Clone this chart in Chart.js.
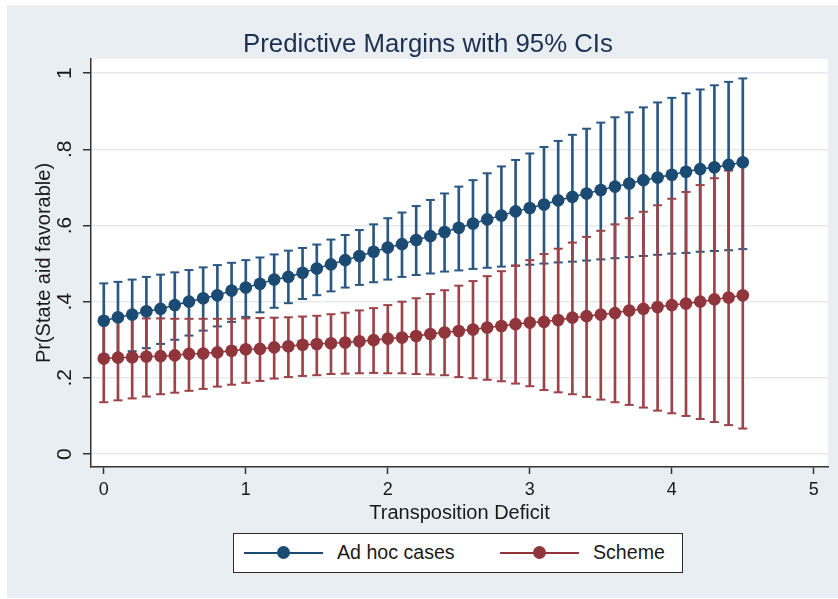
<!DOCTYPE html>
<html>
<head>
<meta charset="utf-8">
<script src="https://cdn.jsdelivr.net/npm/chart.js@4.4.1/dist/chart.umd.min.js"></script>
<style>
  body { margin: 0; background: #fff; }
  #wrap { position: relative; width: 838px; height: 599px; font-family: "Liberation Sans", Arial, sans-serif; color: #1a1a1a; }
  #panel { position: absolute; left: 7px; top: 5px; width: 831px; height: 593px; background: #e8eef2; }
  #chart { position: absolute; left: 0; top: 0; }
  #title { position: absolute; left: 0; top: 28px; width: 856px; text-align: center; font-size: 25.8px; line-height: 30px; color: #1e3050; }
  #legend { position: absolute; left: 233px; top: 533px; width: 450px; height: 40px; box-sizing: border-box;
            border: 1.5px solid #2a2a2a; background: #fff; }
  .ln { position: absolute; height: 2px; width: 79px; top: 17.5px; }
  .dot { position: absolute; width: 13px; height: 13px; border-radius: 50%; top: 12px; }
  .lab { position: absolute; top: 6px; font-size: 19.6px; line-height: 24px; }
</style>
</head>
<body>
<div id="wrap">
  <div id="panel"></div>
  <canvas id="chart" width="838" height="599"></canvas>
  <div id="title">Predictive Margins with 95% CIs</div>
  <div id="legend"></div>
</div>
<script>
// x values (Transposition Deficit)
const xVals = [0, 0.1, 0.2, 0.3, 0.4, 0.5, 0.6, 0.7, 0.8, 0.9,
               1, 1.1, 1.2, 1.3, 1.4, 1.5, 1.6, 1.7, 1.8, 1.9,
               2, 2.1, 2.2, 2.3, 2.4, 2.5, 2.6, 2.7, 2.8, 2.9,
               3, 3.1, 3.2, 3.3, 3.4, 3.5, 3.6, 3.7, 3.8, 3.9,
               4, 4.1, 4.2, 4.3, 4.4, 4.5];

// Ad hoc cases: margin, lower and upper 95% CI
const adhocMean = [0.350, 0.359, 0.366, 0.375, 0.381, 0.391, 0.400, 0.409, 0.417, 0.429,
                   0.437, 0.447, 0.458, 0.465, 0.476, 0.487, 0.498, 0.509, 0.520, 0.531,
                   0.542, 0.551, 0.562, 0.572, 0.583, 0.594, 0.605, 0.616, 0.626, 0.637,
                   0.646, 0.655, 0.666, 0.675, 0.684, 0.693, 0.702, 0.710, 0.719, 0.726,
                   0.733, 0.741, 0.748, 0.753, 0.759, 0.766];
const adhocLo = [0.252, 0.262, 0.270, 0.278, 0.289, 0.300, 0.311, 0.324, 0.335, 0.347,
                 0.360, 0.372, 0.384, 0.396, 0.407, 0.417, 0.427, 0.437, 0.444, 0.451,
                 0.458, 0.465, 0.470, 0.474, 0.479, 0.482, 0.486, 0.489, 0.492, 0.494,
                 0.497, 0.500, 0.503, 0.505, 0.508, 0.511, 0.514, 0.517, 0.520, 0.523,
                 0.526, 0.528, 0.531, 0.533, 0.535, 0.538];
const adhocHi = [0.448, 0.452, 0.458, 0.465, 0.471, 0.477, 0.483, 0.490, 0.496, 0.502,
                 0.509, 0.516, 0.524, 0.534, 0.541, 0.550, 0.563, 0.575, 0.588, 0.603,
                 0.619, 0.634, 0.651, 0.667, 0.684, 0.702, 0.719, 0.737, 0.755, 0.772,
                 0.789, 0.806, 0.822, 0.838, 0.854, 0.870, 0.884, 0.897, 0.910, 0.923,
                 0.935, 0.947, 0.957, 0.968, 0.977, 0.986];

// Scheme: margin, lower and upper 95% CI
const schemeMean = [0.251, 0.253, 0.254, 0.256, 0.257, 0.259, 0.263, 0.264, 0.267, 0.271,
                    0.275, 0.276, 0.280, 0.283, 0.287, 0.289, 0.291, 0.293, 0.296, 0.299,
                    0.303, 0.306, 0.310, 0.315, 0.319, 0.323, 0.327, 0.332, 0.336, 0.341,
                    0.345, 0.347, 0.352, 0.358, 0.362, 0.366, 0.370, 0.377, 0.381, 0.386,
                    0.391, 0.395, 0.400, 0.406, 0.411, 0.417];
const schemeLo = [0.136, 0.141, 0.146, 0.151, 0.157, 0.161, 0.166, 0.171, 0.177, 0.182,
                  0.187, 0.192, 0.198, 0.202, 0.205, 0.207, 0.210, 0.211, 0.212, 0.213,
                  0.212, 0.212, 0.210, 0.209, 0.207, 0.202, 0.199, 0.195, 0.191, 0.185,
                  0.178, 0.168, 0.162, 0.157, 0.150, 0.143, 0.136, 0.129, 0.122, 0.114,
                  0.107, 0.100, 0.092, 0.084, 0.076, 0.067];
const schemeHi = [0.358, 0.357, 0.357, 0.356, 0.356, 0.355, 0.355, 0.355, 0.355, 0.355,
                  0.356, 0.357, 0.358, 0.359, 0.361, 0.363, 0.367, 0.371, 0.377, 0.383,
                  0.391, 0.400, 0.409, 0.420, 0.430, 0.442, 0.454, 0.467, 0.480, 0.495,
                  0.509, 0.525, 0.539, 0.555, 0.570, 0.586, 0.603, 0.619, 0.636, 0.653,
                  0.670, 0.688, 0.706, 0.724, 0.744, 0.767];

const seriesNames = ['Ad hoc cases', 'Scheme'];
const xTickVals = [0, 1, 2, 3, 4, 5];
const xTickLabels = ['0', '1', '2', '3', '4', '5'];
const yTickVals = [0, 0.2, 0.4, 0.6, 0.8, 1];
const yTickLabels = ['0', '.2', '.4', '.6', '.8', '1'];

const BLUE = '#1b4a73', BLUE_CI = '#2b5882';
const RED = '#90353b', RED_CI = '#9c4349';
const FONT = '"Liberation Sans", Arial, sans-serif';

function pts(ys) { return xVals.map((x, i) => ({ x: x, y: ys[i] })); }
function ranges(lo, hi) { return xVals.map((x, i) => ({ x: x, y: [lo[i], hi[i]] })); }
function caps(lo, hi) { return pts(lo).concat(pts(hi)); }

function meanSet(label, ys, color, order) {
    return { type: 'line', label: label, data: pts(ys), order: order,
             borderColor: color, borderWidth: 1.5, backgroundColor: color,
             pointRadius: 6.3, pointBorderWidth: 0, pointBackgroundColor: color, tension: 0 };
}
function whiskerSet(lo, hi, color, order) {
    return { type: 'bar', data: ranges(lo, hi), order: order, grouped: false,
             barThickness: 2, backgroundColor: color, borderWidth: 0 };
}
function capSet(lo, hi, color, order) {
    return { type: 'line', data: caps(lo, hi), order: order, showLine: false,
             pointStyle: 'line', pointRadius: 4.5, pointBorderWidth: 2, pointBorderColor: color };
}

const plotBackground = {
    id: 'plotBackground',
    beforeDraw(chart) {
        const a = chart.chartArea, ctx = chart.ctx;
        ctx.save();
        ctx.fillStyle = '#fff';
        ctx.fillRect(a.left, a.top, a.right - a.left, a.bottom - a.top);
        ctx.restore();
    }
};

// Stata draws the y labels turned on their side
const rotatedYLabels = {
    id: 'rotatedYLabels',
    afterDraw(chart) {
        const y = chart.scales.y, ctx = chart.ctx;
        ctx.save();
        ctx.font = '21px ' + FONT;
        ctx.fillStyle = '#1a1a1a';
        ctx.textAlign = 'center';
        ctx.textBaseline = 'middle';
        yTickVals.forEach((v, i) => {
            ctx.save();
            ctx.translate(65, y.getPixelForValue(v));
            ctx.rotate(-Math.PI / 2);
            ctx.fillText(yTickLabels[i], 0, 0);
            ctx.restore();
        });
        ctx.restore();
    }
};

new Chart(document.getElementById('chart'), {
    type: 'line',
    data: {
        datasets: [
            meanSet(seriesNames[1], schemeMean, RED, 0),
            meanSet(seriesNames[0], adhocMean, BLUE, 1),
            capSet(schemeLo, schemeHi, RED_CI, 2),
            whiskerSet(schemeLo, schemeHi, RED_CI, 3),
            capSet(adhocLo, adhocHi, BLUE_CI, 4),
            whiskerSet(adhocLo, adhocHi, BLUE_CI, 5)
        ]
    },
    options: {
        responsive: false,
        animation: false,
        layout: { padding: { left: 0, top: 59, right: 10, bottom: 72 } },
        plugins: { legend: { display: false }, tooltip: { enabled: false }, title: { display: false } },
        scales: {
            x: {
                type: 'linear', min: -0.09, max: 5.1, offset: false,
                afterBuildTicks: s => { s.ticks = xTickVals.map(v => ({ value: v })); },
                afterFit: s => { s.height = 60; },
                grid: { display: true, drawOnChartArea: false, drawTicks: true, offset: false,
                        tickLength: 7, tickColor: '#333', tickWidth: 1.5 },
                border: { color: '#333', width: 1.5 },
                ticks: { color: '#1a1a1a', font: { family: FONT, size: 18 }, padding: 5,
                          maxRotation: 0, autoSkip: false,
                          callback: (v) => xTickLabels[xTickVals.indexOf(v)] },
                title: { display: true, text: 'Transposition Deficit', color: '#1a1a1a',
                         font: { family: FONT, size: 20 }, padding: { top: 0, bottom: 2 } }
            },
            y: {
                type: 'linear', min: -0.034, max: 1.037,
                afterBuildTicks: s => { s.ticks = yTickVals.map(v => ({ value: v })); },
                afterFit: s => { s.width = 91; },
                grid: { color: '#e7eaed', lineWidth: 1.5, drawTicks: true, tickLength: 8,
                        tickColor: '#333', tickWidth: 1.5 },
                border: { color: '#333', width: 1.5 },
                ticks: { display: false },
                title: { display: true, text: 'Pr(State aid favorable)', color: '#1a1a1a',
                         font: { family: FONT, size: 20 }, padding: { top: 32, bottom: 0 } }
            }
        }
    },
    plugins: [plotBackground, rotatedYLabels]
});

// legend box like Stata's: line with a marker, then the name
const legendItems = [
    { name: seriesNames[0], color: BLUE, left: 10 },
    { name: seriesNames[1], color: RED, left: 266 }
];
const legend = document.getElementById('legend');
legendItems.forEach(it => {
    const ln = document.createElement('span');
    ln.className = 'ln';
    ln.style.left = it.left + 'px';
    ln.style.background = it.color;
    const dot = document.createElement('span');
    dot.className = 'dot';
    dot.style.left = (it.left + 33) + 'px';
    dot.style.background = it.color;
    const lab = document.createElement('span');
    lab.className = 'lab';
    lab.style.left = (it.left + 93) + 'px';
    lab.textContent = it.name;
    legend.appendChild(ln);
    legend.appendChild(dot);
    legend.appendChild(lab);
});
</script>
</body>
</html>
